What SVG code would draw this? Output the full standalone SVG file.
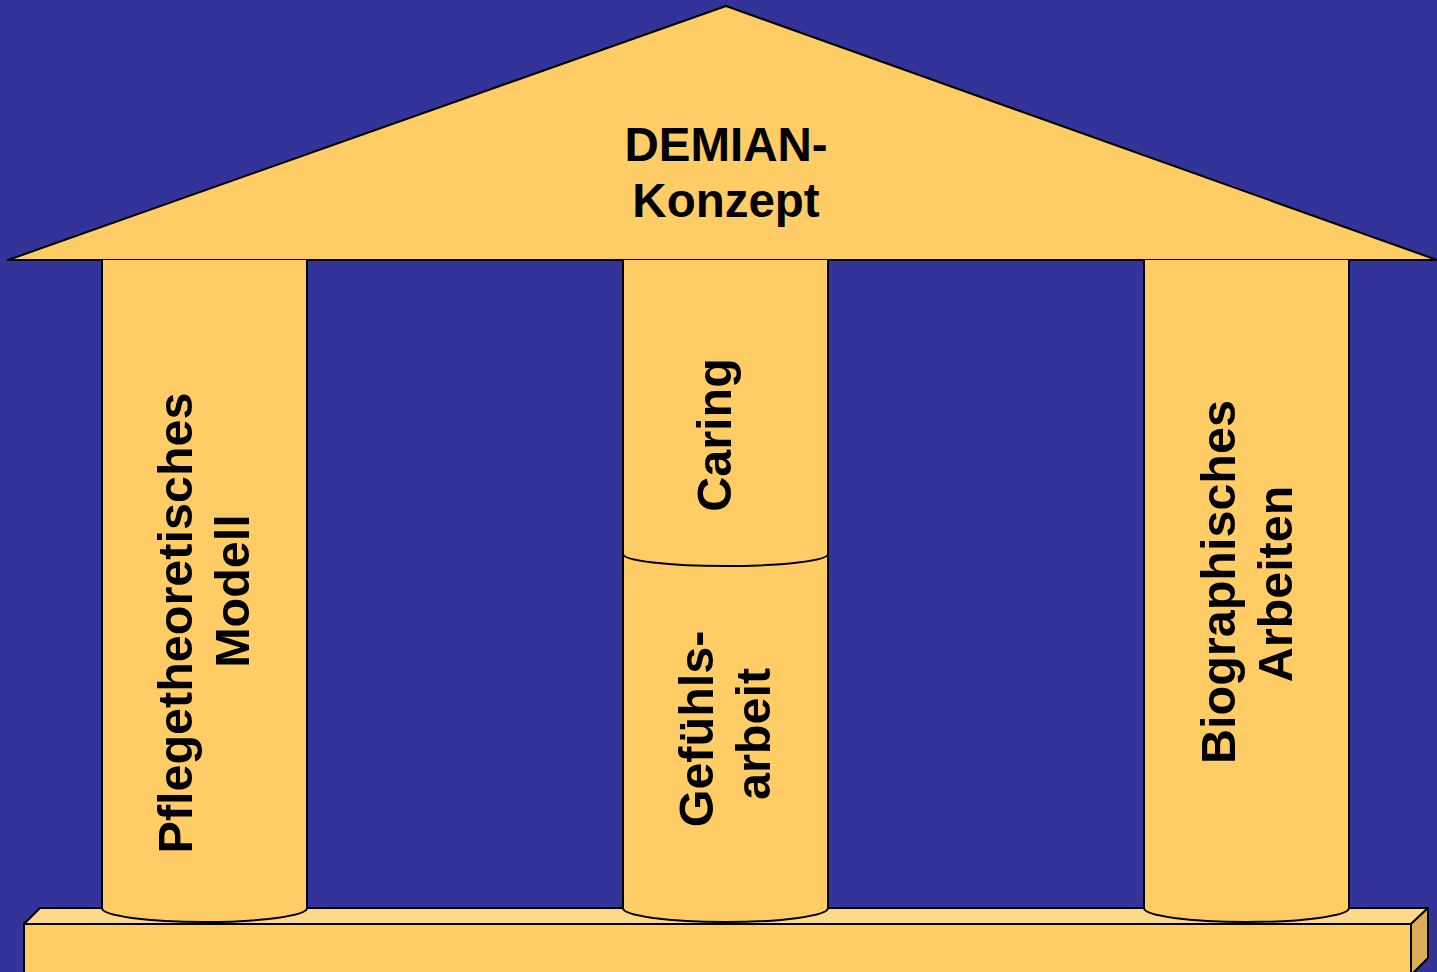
<svg xmlns="http://www.w3.org/2000/svg" width="1437" height="972" viewBox="0 0 1437 972">
<style>
.s{stroke:#000;stroke-width:2;stroke-linejoin:round}
.f{fill:#FFCC66}
.t{font-family:"Liberation Sans",Arial,sans-serif;font-weight:bold;fill:#000;text-anchor:middle}
.v{font-size:48.5px}
</style>
<rect width="1437" height="972" fill="#333399"/>
<g id="base">
<rect class="s f" x="24" y="924" width="1387" height="60"/>
<polygon class="s" fill="#FFD98A" points="24,924 40,908 1428,908 1411,924"/>
<polygon class="s" fill="#D9AD57" points="1411,924 1428,908 1428,958 1411,975"/>
</g>
<g id="roof">
<polygon class="s f" points="8,260 726,6 1437,260"/>
<text class="t" x="726" y="161" font-size="47.5">DEMIAN-</text>
<text class="t" x="726" y="217" font-size="47.5">Konzept</text>
</g>
<g id="col-pflege">
<path class="s f" d="M102,260 V908 A102.5,14 0 0 0 307,908 V260"/>
<text class="t v" transform="translate(192,623) rotate(-90)">Pflegetheoretisches</text>
<text class="t v" transform="translate(249,591) rotate(-90)">Modell</text>
</g>
<g id="col-gefuehl">
<path class="s f" d="M623,554 V908 A102.5,14 0 0 0 828,908 V554"/>
<text class="t v" transform="translate(713,729) rotate(-90)">Gefühls-</text>
<text class="t v" transform="translate(770,734) rotate(-90)">arbeit</text>
</g>
<g id="col-caring">
<path class="s f" d="M623,260 V554 A102.5,12 0 0 0 828,554 V260"/>
<text class="t v" transform="translate(731,435) rotate(-90)">Caring</text>
</g>
<g id="col-bio">
<path class="s f" d="M1144,260 V908 A102.5,14 0 0 0 1349,908 V260"/>
<text class="t v" transform="translate(1235,582) rotate(-90)">Biographisches</text>
<text class="t v" transform="translate(1292,584) rotate(-90)">Arbeiten</text>
</g>
</svg>
